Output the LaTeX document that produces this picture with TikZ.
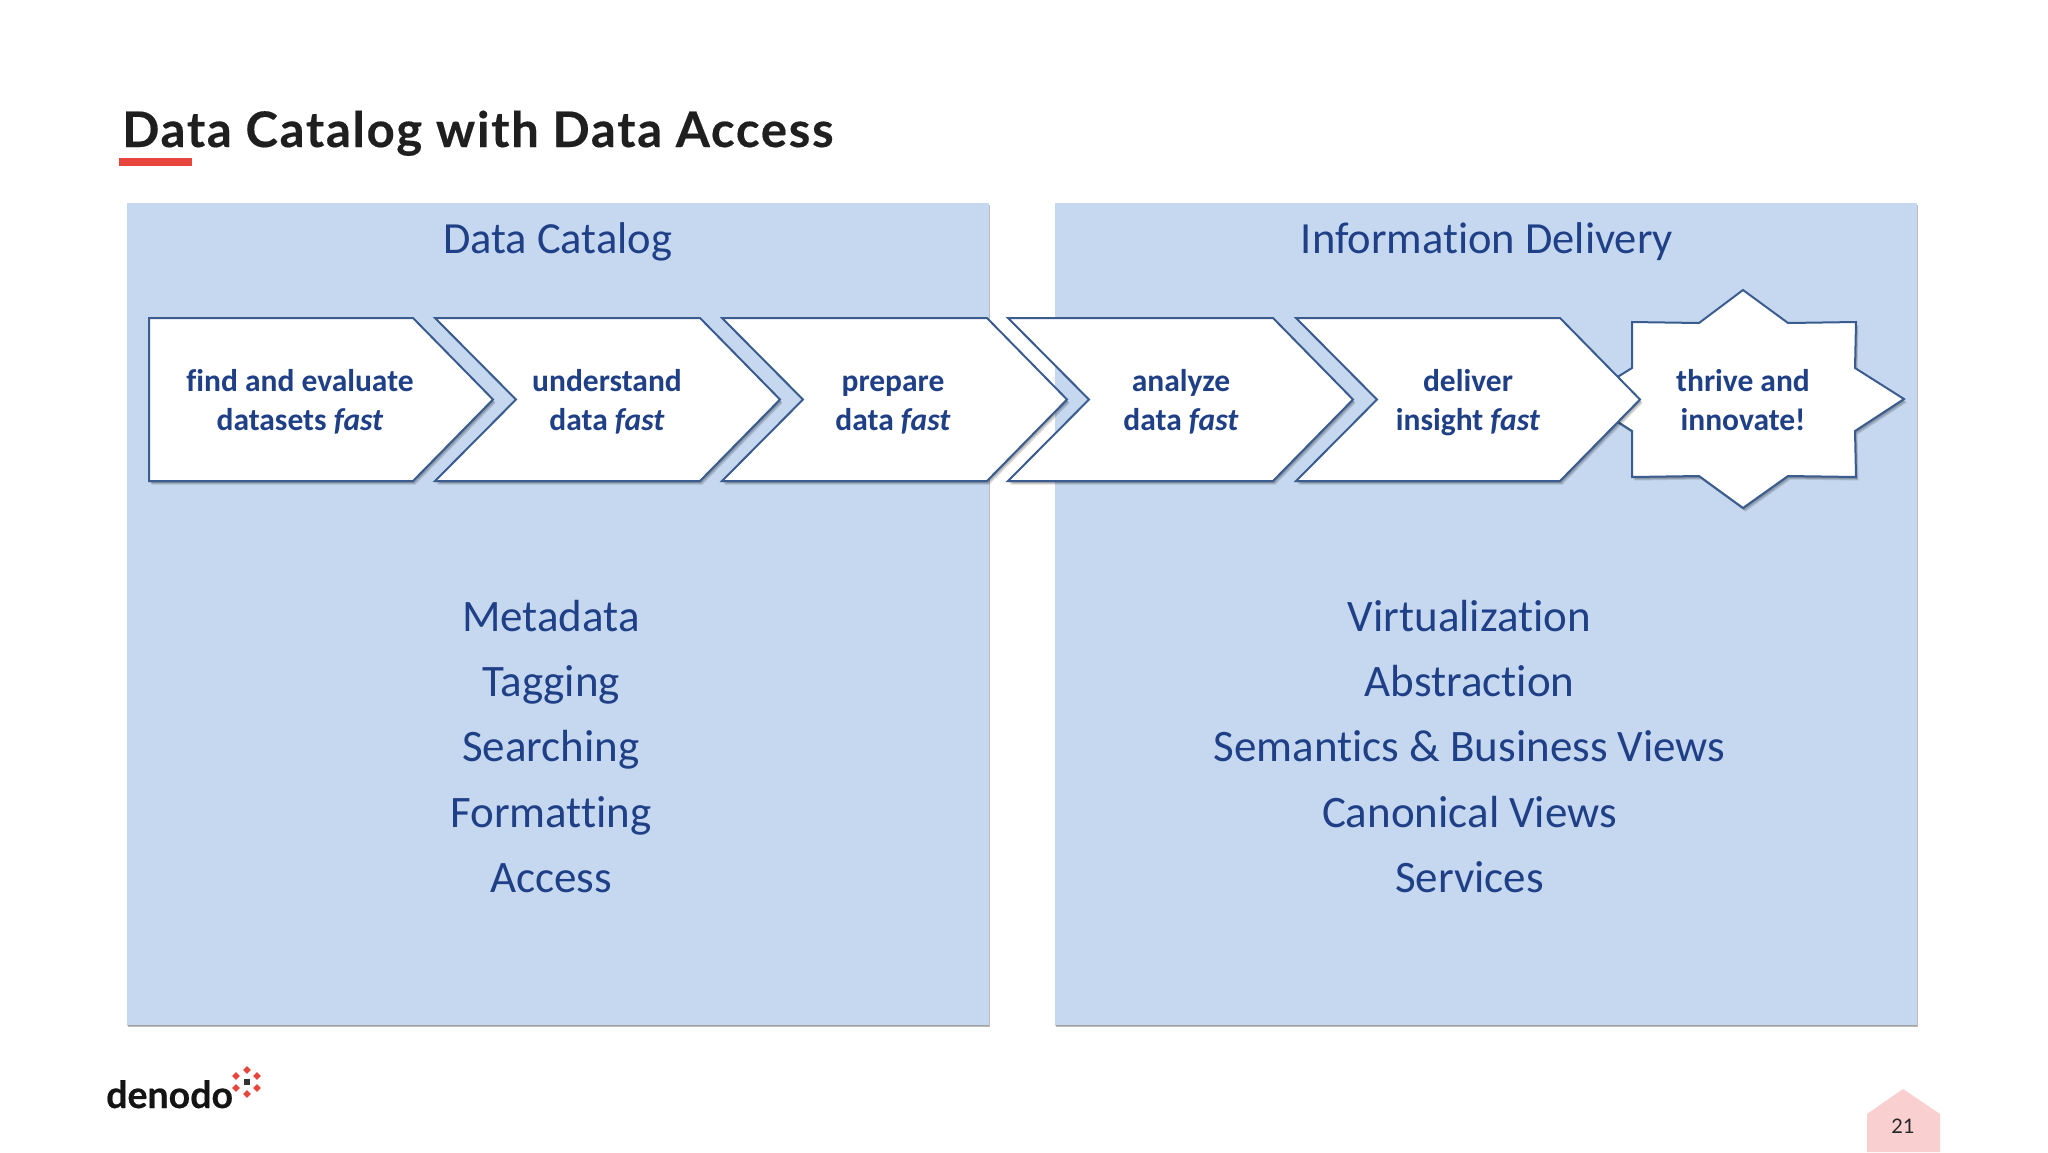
\documentclass[tikz,border=0pt]{standalone}
\usepackage{fontspec}
\setmainfont{Carlito}[Ligatures=NoCommon]
\newfontfamily\titlefont{Lato}[LetterSpace=3.6,BoldFeatures={FakeBold=0.35}]
\newfontfamily\logofont{Lato}[BoldFeatures={FakeBold=0.5}]
\newfontfamily\tabfont{Lato}
\usetikzlibrary{shadows}
\definecolor{panelblue}{HTML}{C5D8F0}
\definecolor{inkblue}{HTML}{1F3F86}
\definecolor{edgeblue}{HTML}{3A5C8F}
\definecolor{markred}{HTML}{E8453C}
\definecolor{tabpink}{HTML}{F9CFCF}
\begin{document}
\begin{tikzpicture}[x=1pt,y=-1pt]
\tikzset{softshadow/.style={drop shadow={shadow xshift=#1, shadow yshift=-#1-1pt, fill=black, opacity=.14}}}
\tikzset{panelbox/.style={fill=panelblue, softshadow=0pt, softshadow=.5pt, softshadow=1pt}}
\tikzset{chevronbox/.style={draw=edgeblue, line width=2pt, fill=white, line join=miter, softshadow=.5pt, softshadow=1.5pt, softshadow=2.5pt}}
\tikzset{headtext/.style={anchor=base, text=inkblue, font=\fontsize{44.5}{50}\selectfont}}
\tikzset{listtext/.style={anchor=base, text=inkblue, font=\fontsize{45}{50}\selectfont}}
\tikzset{steptext/.style={anchor=base, text=inkblue, align=center, font=\fontsize{31.5}{39}\selectfont\bfseries}}
\tikzset{reddot/.style={fill=markred, minimum size=5.5pt, inner sep=0pt, rotate=45}}
\useasboundingbox (0,0) rectangle (2048,1152);
\fill[white] (0,0) rectangle (2048,1152);
% title
\node[anchor=base west, inner sep=0pt, text=black!88, font=\titlefont\fontsize{49}{50}\selectfont\bfseries] (title) at (122,147) {Data Catalog with Data Access};
\fill[markred] (119,158) rectangle (192,166);
% panels
\fill[panelbox] (127,203) rectangle (989,1025);
\fill[panelbox] (1055,203) rectangle (1917,1025);
\node[headtext] (catalog) at (557.5,253) {Data Catalog};
\node[headtext] (delivery) at (1487,253) {Information Delivery};
% star goes under the last chevron
\draw[chevronbox] (1743,290) -- (1788,323) -- (1856,322) -- (1855,368) -- (1904,399) -- (1855,431) -- (1856,477) -- (1788,476) -- (1743,508) -- (1699,476) -- (1632,477) -- (1632,431) -- (1582,399) -- (1632,368) -- (1632,322) -- (1699,323) -- cycle;
\draw[chevronbox] (149,318) -- (413,318) -- (493,399.5) -- (413,481) -- (149,481) -- cycle;
\draw[chevronbox] (435,318) -- (700,318) -- (780,399.5) -- (700,481) -- (435,481) -- (516,399.5) -- cycle;
\draw[chevronbox] (722,318) -- (987,318) -- (1067,399.5) -- (987,481) -- (722,481) -- (803,399.5) -- cycle;
\draw[chevronbox] (1008,318) -- (1273,318) -- (1353,399.5) -- (1273,481) -- (1008,481) -- (1089,399.5) -- cycle;
\draw[chevronbox] (1296,318) -- (1560,318) -- (1640,399.5) -- (1560,481) -- (1296,481) -- (1377,399.5) -- cycle;
% step labels
\node[steptext] (find) at (300,430) {find and evaluate\\datasets \textit{fast}};
\node[steptext] (understand) at (607,430) {understand\\data \textit{fast}};
\node[steptext] (prepare) at (893,430) {prepare\\data \textit{fast}};
\node[steptext] (analyze) at (1181,430) {analyze\\data \textit{fast}};
\node[steptext] (deliver) at (1468,430) {deliver\\insight \textit{fast}};
\node[steptext] (thrive) at (1743,430) {thrive and\\innovate!};
% lists
\node[listtext] (meta) at (551,631) {Metadata};
\node[listtext] (tag) at (551,696) {Tagging};
\node[listtext] (search) at (551,761.5) {Searching};
\node[listtext] (format) at (551,827) {Formatting};
\node[listtext] (access) at (551,892) {Access};
\node[listtext] (virt) at (1469.5,631) {Virtualization};
\node[listtext] (abstr) at (1469.5,696) {Abstraction};
\node[listtext] (sem) at (1469.5,761.5) {Semantics \& Business Views};
\node[listtext] (canon) at (1469.5,827) {Canonical Views};
\node[listtext] (serv) at (1469.5,892) {Services};
% logo
\node[anchor=base west, inner sep=0pt, text=black!92, font=\logofont\fontsize{37.5}{40}\selectfont\bfseries] (denodo) at (106,1108) {denodo};
\node[fill=black!80, minimum size=5.5pt, inner sep=0pt] (dotc) at (247,1082) {};
\node[reddot] (dot1) at (247,1070) {};
\node[reddot] (dot2) at (257,1076) {};
\node[reddot] (dot3) at (257,1088) {};
\node[reddot] (dot4) at (247,1094) {};
\node[reddot] (dot5) at (236,1088) {};
\node[reddot] (dot6) at (236,1076) {};
% page tab
\fill[tabpink] (1867,1152) -- (1867,1114) -- (1903,1089) -- (1940,1114) -- (1940,1152) -- cycle;
\node[text=black!85, font=\tabfont\fontsize{20}{22}\selectfont] (page) at (1903,1126) {21};
\end{tikzpicture}
\end{document}
